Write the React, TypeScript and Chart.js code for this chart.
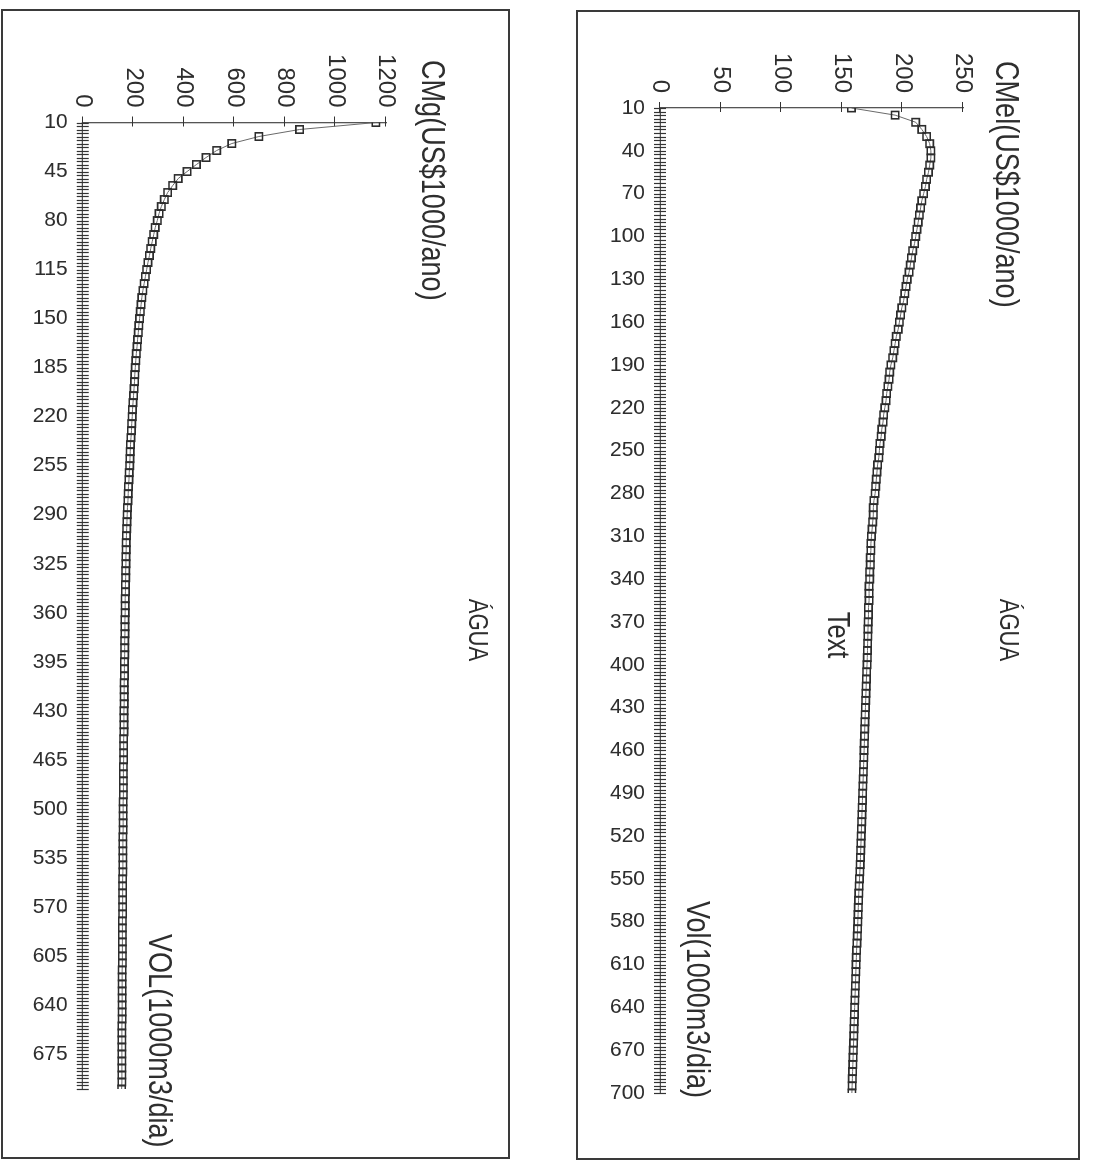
import React, { useEffect, useRef } from "react";
import { Chart, registerables } from "chart.js";

Chart.register(...registerables);

// ---------- data ----------
const VOLUME = [
  10, 15, 20, 25, 30, 35, 40, 45, 50, 55,
  60, 65, 70, 75, 80, 85, 90, 95, 100, 105,
  110, 115, 120, 125, 130, 135, 140, 145, 150, 155,
  160, 165, 170, 175, 180, 185, 190, 195, 200, 205,
  210, 215, 220, 225, 230, 235, 240, 245, 250, 255,
  260, 265, 270, 275, 280, 285, 290, 295, 300, 305,
  310, 315, 320, 325, 330, 335, 340, 345, 350, 355,
  360, 365, 370, 375, 380, 385, 390, 395, 400, 405,
  410, 415, 420, 425, 430, 435, 440, 445, 450, 455,
  460, 465, 470, 475, 480, 485, 490, 495, 500, 505,
  510, 515, 520, 525, 530, 535, 540, 545, 550, 555,
  560, 565, 570, 575, 580, 585, 590, 595, 600, 605,
  610, 615, 620, 625, 630, 635, 640, 645, 650, 655,
  660, 665, 670, 675, 680, 685, 690, 695, 700,
];

const CMG = [
  1160, 858, 697, 590, 530, 488, 450, 413, 378, 356,
  336, 323, 311, 302, 295, 287, 281, 275, 269, 264,
  258, 253, 248, 243, 238, 234, 231, 228, 225, 222,
  220, 217, 215, 212, 210, 208, 206, 205, 203, 201,
  199, 197, 196, 194, 193, 191, 189, 188, 187, 186,
  184, 183, 181, 180, 179, 177, 176, 175, 174, 173,
  172, 172, 171, 171, 170, 170, 169, 169, 168, 168,
  168, 167, 167, 167, 166, 166, 166, 165, 165, 165,
  164, 164, 164, 164, 163, 163, 163, 163, 162, 162,
  162, 162, 161, 161, 161, 161, 161, 160, 160, 160,
  160, 160, 159, 159, 159, 159, 159, 159, 158, 158,
  158, 158, 158, 158, 157, 157, 157, 157, 157, 157,
  157, 156, 156, 156, 156, 156, 156, 156, 156, 155,
  155, 155, 155, 155, 155, 155, 155, 155, 154,
];

const CMEL = [
  158, 194, 211, 216, 220, 222.5, 223.5, 223.5, 222.5, 221.5,
  220, 219, 217.5, 216, 215, 214, 213, 212, 211, 210,
  208.5, 207.5, 206.5, 205.5, 204, 203, 202, 201, 199.5, 198.5,
  197.5, 196.5, 195, 194, 193, 192, 190.5, 189.5, 189, 188,
  187, 186.5, 185.5, 184.5, 184, 183, 182.5, 181.5, 181, 180.5,
  179.5, 179, 178.5, 178, 177.5, 176.5, 176, 176, 175.5, 175,
  174.5, 174, 174, 173.5, 173.5, 173, 173, 172.5, 172.5, 172.5,
  172, 172, 171.8, 171.6, 171.5, 171.3, 171.2, 171, 170.8, 170.5,
  170.3, 170.1, 169.9, 169.7, 169.5, 169.3, 169.1, 168.9, 168.8, 168.6,
  168.4, 168.2, 168, 167.8, 167.6, 167.4, 167.2, 167, 166.8, 166.6,
  166.4, 166.2, 166, 165.8, 165.6, 165.4, 165.2, 164.9, 164.6, 164.3,
  164, 163.8, 163.6, 163.4, 163.2, 163, 162.8, 162.5, 162.2, 162,
  161.8, 161.6, 161.4, 161.2, 161, 160.8, 160.6, 160.4, 160.2, 160,
  159.9, 159.7, 159.5, 159.3, 159.1, 158.9, 158.7, 158.5, 158.3,
];

const LEFT_VOL_LABELS = [10, 45, 80, 115, 150, 185, 220, 255, 290, 325, 360, 395, 430, 465, 500, 535, 570, 605, 640, 675];
const RIGHT_VOL_LABELS = [10, 40, 70, 100, 130, 160, 190, 220, 250, 280, 310, 340, 370, 400, 430, 460, 490, 520, 550, 580, 610, 640, 670, 700];
const LEFT_COST_TICKS = [0, 200, 400, 600, 800, 1000, 1200];
const RIGHT_COST_TICKS = [0, 50, 100, 150, 200, 250];

const TITLE = "ÁGUA";
const LEFT_Y_TITLE = "CMg(US$1000/ano)";
const LEFT_X_TITLE = "VOL(1000m3/dia)";
const RIGHT_Y_TITLE = "CMel(US$1000/ano)";
const RIGHT_X_TITLE = "Vol(1000m3/dia)";
const EXTRA_TEXT = "Text";

// ---------- styling ----------
const FONT = "'Liberation Sans', Arial, Helvetica, sans-serif";
const INK = "#2e2e2e";
const AXIS = "#555555";
const SQUEEZE = 0.82; // narrow lettering of the original sheet

type Note = { text: string; sx: number; sy: number; size: number; align: "left" | "center" };

type Panel = {
  left: number; top: number; width: number; height: number;
  axisX: number; costEndX: number; axisY: number; volEndY: number;
  costMax: number; costStep: number; costTicks: number[]; volLabels: number[];
  values: number[]; label: string; notes: Note[];
};

const PANELS: Panel[] = [
  {
    left: 1, top: 9, width: 509, height: 1150,
    axisX: 82.7, costEndX: 386, axisY: 122.5, volEndY: 1089,
    costMax: 1200, costStep: 200, costTicks: LEFT_COST_TICKS, volLabels: LEFT_VOL_LABELS,
    values: CMG, label: LEFT_Y_TITLE,
    notes: [
      { text: LEFT_Y_TITLE, sx: 431, sy: 60, size: 33, align: "left" },
      { text: TITLE, sx: 476, sy: 630, size: 27, align: "center" },
      { text: LEFT_X_TITLE, sx: 158, sy: 934, size: 33, align: "left" },
    ],
  },
  {
    left: 576, top: 10, width: 504, height: 1150,
    axisX: 660, costEndX: 963, axisY: 108, volEndY: 1093,
    costMax: 250, costStep: 50, costTicks: RIGHT_COST_TICKS, volLabels: RIGHT_VOL_LABELS,
    values: CMEL, label: RIGHT_Y_TITLE,
    notes: [
      { text: RIGHT_Y_TITLE, sx: 1005, sy: 61, size: 33, align: "left" },
      { text: TITLE, sx: 1007, sy: 630, size: 27, align: "center" },
      { text: EXTRA_TEXT, sx: 837, sy: 635, size: 31, align: "center" },
      { text: RIGHT_X_TITLE, sx: 696, sy: 901, size: 33, align: "left" },
    ],
  },
];

// crossing tick marks drawn from the scales' own ticks
const crossTicks = {
  id: "crossTicks",
  beforeDatasetsDraw(chart: any, _args: any, opts: any) {
    const { ctx, chartArea } = chart;
    const xs = chart.scales.x;
    const ys = chart.scales.y;
    ctx.save();
    ctx.strokeStyle = opts.color;
    ctx.lineWidth = opts.width;
    ctx.beginPath();
    for (const t of xs.ticks) {
      const p = Math.round(xs.getPixelForValue(t.value)) + 0.5;
      ctx.moveTo(p, chartArea.bottom - opts.xIn);
      ctx.lineTo(p, chartArea.bottom + opts.xOut);
    }
    for (const t of ys.ticks) {
      const p = Math.round(ys.getPixelForValue(t.value)) + 0.5;
      ctx.moveTo(chartArea.left - opts.yOut, p);
      ctx.lineTo(chartArea.left + opts.yIn, p);
    }
    ctx.stroke();
    ctx.restore();
  },
};

// free text boxes (titles / labels), drawn in a condensed face
const notesPlugin = {
  id: "notes",
  afterDraw(chart: any, _args: any, opts: any) {
    const { ctx } = chart;
    for (const n of opts.items) {
      ctx.save();
      ctx.fillStyle = opts.color;
      ctx.textBaseline = "middle";
      ctx.font = `${n.size}px ${FONT}`;
      ctx.textAlign = n.align;
      ctx.translate(n.x, n.y);
      ctx.scale(SQUEEZE, 1);
      ctx.fillText(n.text, 0, 0);
      ctx.restore();
    }
  },
};

function RotatedChart({ p }: { p: Panel }) {
  const ref = useRef<HTMLCanvasElement | null>(null);
  const W = p.height; // canvas width before rotation
  const H = p.width; // canvas height before rotation

  useEffect(() => {
    if (!ref.current) return;
    const plotLeft = p.axisY - p.top;
    const plotRight = p.volEndY - p.top;
    const plotBottom = H - (p.axisX - p.left);
    const plotTop = H - (p.costEndX - p.left);
    const items = p.notes.map((n) => ({
      text: n.text,
      x: n.sy - p.top,
      y: H - (n.sx - p.left),
      size: n.size,
      align: n.align,
    }));
    const labelFor = (v: number, list: number[]) => {
      const hit = list.find((l) => Math.abs(l - v) < 1e-6);
      return hit === undefined ? "" : String(hit);
    };
    const chart = new Chart(ref.current, {
      type: "line",
      data: {
        datasets: [
          {
            label: p.label,
            data: VOLUME.map((v, i) => ({ x: v, y: p.values[i] })),
            borderColor: "#6a6a6a",
            borderWidth: 1,
            pointStyle: "rect",
            pointRadius: 5.2,
            pointBorderWidth: 1.6,
            pointBorderColor: "#2c2c2c",
            pointBackgroundColor: "rgba(255,255,255,0)",
            tension: 0,
          },
        ],
      },
      options: {
        responsive: false,
        animation: false,
        events: [],
        layout: { padding: { top: plotTop, right: W - plotRight, left: 0, bottom: 0 } },
        scales: {
          x: {
            type: "linear",
            position: "bottom",
            min: 10,
            max: 700,
            afterFit: (s: any) => { s.height = H - plotBottom; },
            grid: { display: false, drawTicks: false },
            border: { display: true, color: AXIS, width: 1.3 },
            ticks: {
              stepSize: 2.5,
              autoSkip: false,
              minRotation: 90,
              maxRotation: 90,
              padding: 15,
              color: INK,
              font: { family: FONT, size: 21 },
              callback: (v: any) => labelFor(Number(v), p.volLabels),
            },
          },
          y: {
            type: "linear",
            min: 0,
            max: p.costMax,
            afterFit: (s: any) => { s.width = plotLeft; },
            grid: { display: false, drawTicks: false },
            border: { display: true, color: AXIS, width: 1.3 },
            ticks: {
              stepSize: p.costStep,
              padding: 15,
              color: INK,
              font: { family: FONT, size: 24 },
              callback: (v: any) => labelFor(Number(v), p.costTicks),
            },
          },
        },
        plugins: {
          legend: { display: false },
          tooltip: { enabled: false },
          title: { display: false },
          crossTicks: { color: "#333333", width: 1.2, xIn: 6, xOut: 6, yIn: 4, yOut: 6 },
          notes: { color: INK, items },
        } as any,
      },
      plugins: [crossTicks, notesPlugin],
    } as any);
    return () => chart.destroy();
  }, [p, W, H]);

  return (
    <div
      style={{
        position: "absolute",
        left: p.left,
        top: p.top,
        width: W,
        height: H,
        transformOrigin: "0 0",
        transform: `translate(${H}px, 0px) rotate(90deg)`,
      }}
    >
      <canvas ref={ref} width={W} height={H} style={{ width: W, height: H, display: "block" }} />
    </div>
  );
}

export default function App() {
  return (
    <div
      style={{
        position: "absolute",
        left: 0,
        top: 0,
        width: 1095,
        height: 1165,
        overflow: "hidden",
        background: "#ffffff",
      }}
    >
      {PANELS.map((p, i) => (
        <React.Fragment key={i}>
          <RotatedChart p={p} />
          <div
            style={{
              position: "absolute",
              left: p.left,
              top: p.top,
              width: p.width,
              height: p.height,
              border: "2px solid #3a3a3a",
              boxSizing: "border-box",
              pointerEvents: "none",
            }}
          />
        </React.Fragment>
      ))}
    </div>
  );
}
